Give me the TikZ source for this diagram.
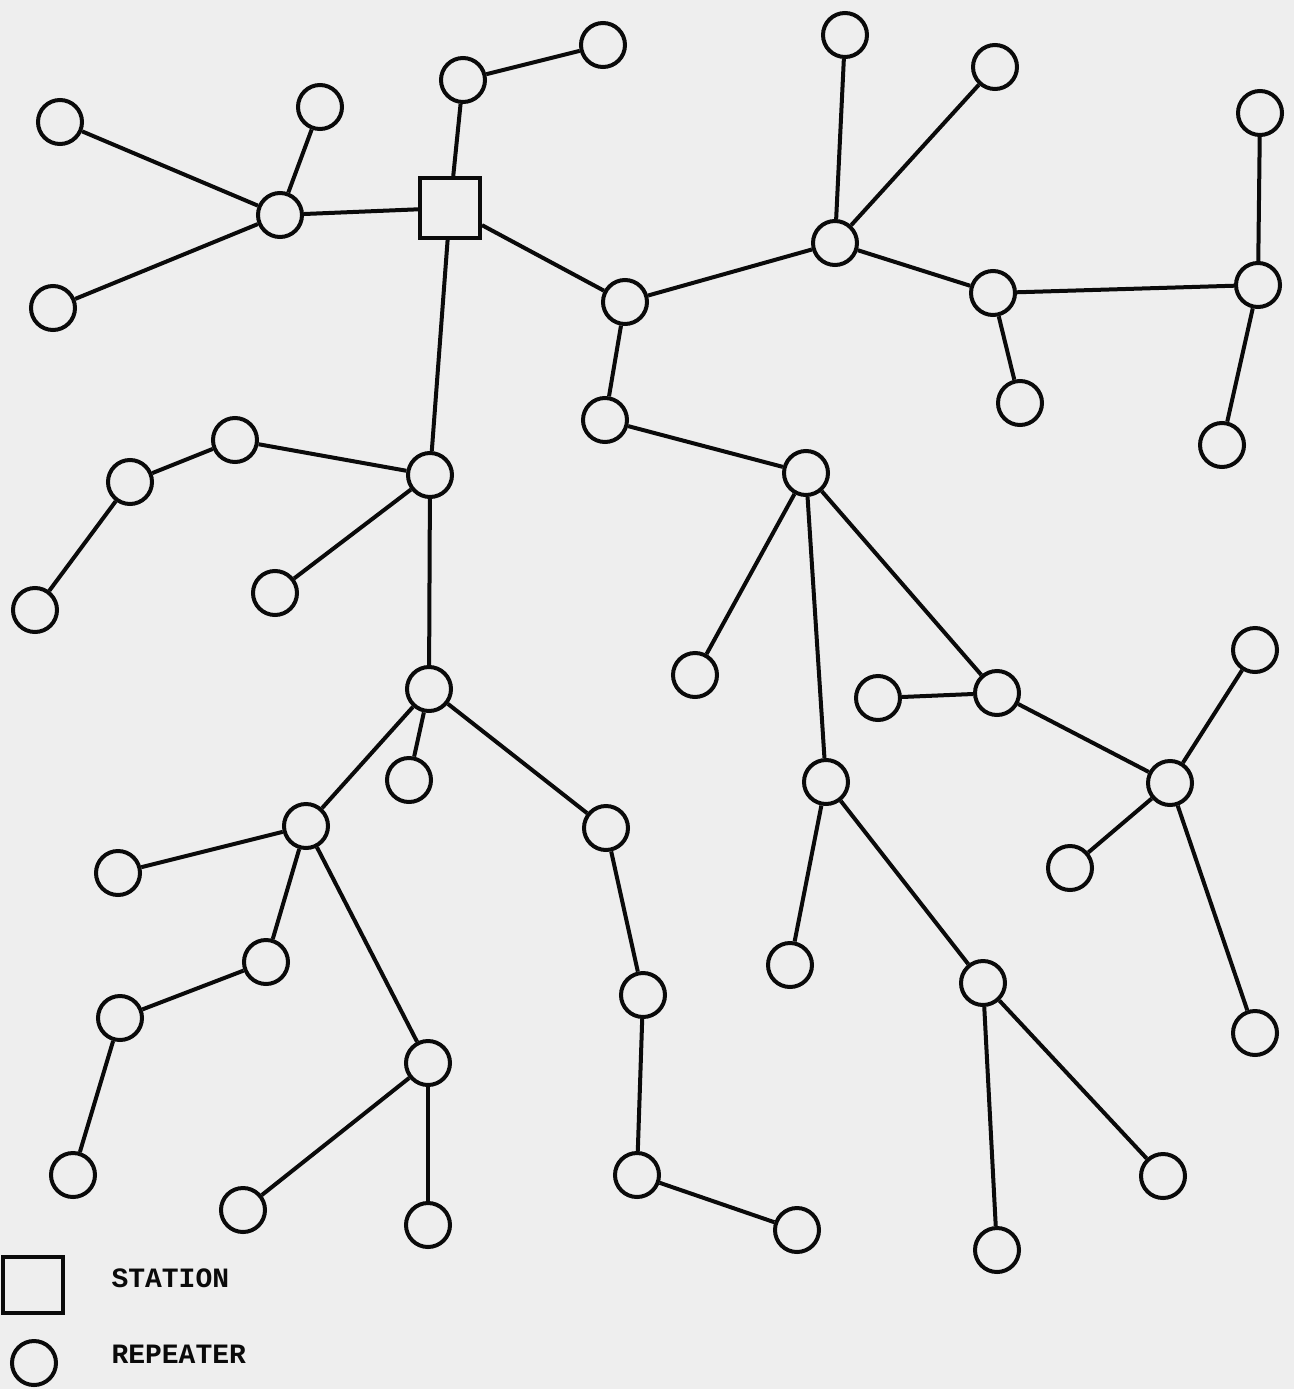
\documentclass[tikz,border=0pt]{standalone}
\usepackage{fontspec}
\setmonofont{Liberation Mono}
\definecolor{paper}{RGB}{238,238,238}
\definecolor{ink}{RGB}{10,10,10}
\begin{document}
\begin{tikzpicture}[x=1pt,y=-1pt,
  rep/.style={circle,draw=ink,line width=4pt,minimum size=44pt,inner sep=0pt,fill=paper},
  stn/.style={rectangle,draw=ink,line width=4pt,minimum size=60pt,inner sep=0pt,fill=paper},
  link/.style={line width=4pt,draw=ink},
  lbl/.style={font=\ttfamily\bfseries\fontsize{28}{28}\selectfont,anchor=west,text=ink}]
\fill[paper] (0,0) rectangle (1294,1389);
\useasboundingbox (0,0) rectangle (1294,1389);
% nodes
\node[stn] (S) at (450,208) {};
\node[rep] (n1) at (603,45) {};
\node[rep] (n2) at (463,80) {};
\node[rep] (n3) at (845,35) {};
\node[rep] (n4) at (995,67) {};
\node[rep] (n5) at (1260,113) {};
\node[rep] (n6) at (60,122) {};
\node[rep] (n7) at (320,107) {};
\node[rep] (n8) at (280,215) {};
\node[rep] (n9) at (53,308) {};
\node[rep] (n10) at (835,243) {};
\node[rep] (n11) at (625,302) {};
\node[rep] (n12) at (993,293) {};
\node[rep] (n13) at (1258,285) {};
\node[rep] (n14) at (1020,403) {};
\node[rep] (n15) at (605,420) {};
\node[rep] (n16) at (1222,445) {};
\node[rep] (n17) at (235,440) {};
\node[rep] (n18) at (130,482) {};
\node[rep] (n19) at (430,475) {};
\node[rep] (n20) at (806,473) {};
\node[rep] (n21) at (35,610) {};
\node[rep] (n22) at (275,593) {};
\node[rep] (n23) at (695,675) {};
\node[rep] (n24) at (1255,650) {};
\node[rep] (n25) at (878,698) {};
\node[rep] (n26) at (997,693) {};
\node[rep] (n27) at (429,689) {};
\node[rep] (n28) at (409,780) {};
\node[rep] (n29) at (826,782) {};
\node[rep] (n30) at (1170,783) {};
\node[rep] (n31) at (306,826) {};
\node[rep] (n32) at (606,828) {};
\node[rep] (n33) at (118,873) {};
\node[rep] (n34) at (1070,868) {};
\node[rep] (n35) at (266,962) {};
\node[rep] (n36) at (790,965) {};
\node[rep] (n37) at (643,995) {};
\node[rep] (n38) at (983,983) {};
\node[rep] (n39) at (120,1018) {};
\node[rep] (n40) at (1255,1033) {};
\node[rep] (n41) at (428,1063) {};
\node[rep] (n42) at (73,1175) {};
\node[rep] (n43) at (1163,1176) {};
\node[rep] (n44) at (637,1175) {};
\node[rep] (n45) at (243,1210) {};
\node[rep] (n46) at (428,1225) {};
\node[rep] (n47) at (797,1230) {};
\node[rep] (n48) at (997,1250) {};
% legend
\node[rectangle,draw=ink,line width=4pt,minimum width=60pt,minimum height=56pt,inner sep=0pt] (ls) at (33,1285) {};
\node[rep] (lr) at (34,1363) {};
\node[lbl] (lt1) at (108,1278) {STATION};
\node[lbl] (lt2) at (108,1354) {REPEATER};
% links
\foreach \a/\b in {n6/n8,n7/n8,n9/n8,n8/S,S/n2,n2/n1,S/n11,S/n19,n11/n10,n10/n3,n10/n4,n10/n12,n12/n13,n12/n14,n13/n5,n13/n16,n11/n15,n15/n20,n20/n23,n20/n26,n20/n29,n26/n25,n26/n30,n30/n24,n30/n34,n30/n40,n29/n36,n29/n38,n38/n48,n38/n43,n19/n17,n17/n18,n18/n21,n19/n22,n19/n27,n27/n28,n27/n31,n27/n32,n31/n33,n31/n35,n35/n39,n39/n42,n31/n41,n41/n45,n41/n46,n32/n37,n37/n44,n44/n47}
  \draw[link] (\a) -- (\b);
\end{tikzpicture}
\end{document}
